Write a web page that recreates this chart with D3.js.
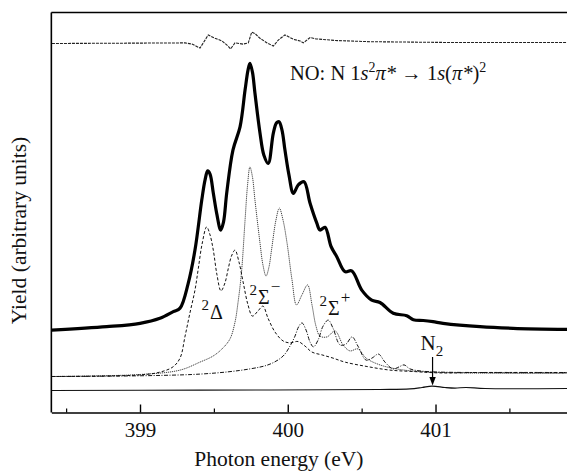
<!DOCTYPE html>
<html>
<head>
<meta charset="utf-8">
<script src="https://cdn.jsdelivr.net/npm/d3@7"></script>
<style>
  body { margin: 0; background: #fff; }
  svg text { font-family: "Liberation Serif", "Times New Roman", serif; fill: #111; }
</style>
</head>
<body>
<svg id="chart" width="567" height="474"></svg>
<script>
// ticks
var xTicks = [399, 400, 401];
var xMinorTicks = [398.5, 399.5, 400.5, 401.5];

// measured yield (thick curve), [photon energy eV, yield]
var measured = [
  [398.402, 20.6], [398.775, 21.45], [399.000, 22.3], [399.135, 23.55], [399.225, 25.2],
  [399.271, 26.1], [399.325, 32.1], [399.372, 40.6], [399.418, 53.1], [399.440, 58.1],
  [399.458, 60.4], [399.474, 59.6], [399.496, 54.9], [399.521, 49.4], [399.546, 45.6],
  [399.565, 47.6], [399.587, 54.9], [399.629, 65.6], [399.677, 71.4], [399.711, 80.6],
  [399.731, 85.6], [399.744, 87.3], [399.761, 85.1], [399.778, 79.8], [399.812, 69.9],
  [399.838, 64.4], [399.868, 62.3], [399.902, 69.8], [399.924, 72.4], [399.941, 72.7],
  [399.961, 70.6], [399.981, 65.6], [400.008, 59.4], [400.038, 54.8], [400.071, 56.9],
  [400.110, 57.7], [400.151, 52.3], [400.196, 47.4], [400.218, 45.6], [400.252, 46.3],
  [400.293, 41.5], [400.331, 39.0], [400.387, 35.2], [400.433, 35.4], [400.501, 30.6],
  [400.568, 28.1], [400.624, 27.5], [400.714, 24.8], [400.805, 24.2], [400.850, 23.2],
  [400.917, 23.0], [400.983, 22.7], [401.051, 22.3], [401.301, 21.45], [401.525, 21.05],
  [401.890, 20.8]
];

// 2Delta component
var delta = [
  [398.404, 9.0], [399.000, 9.4], [399.135, 10.1], [399.223, 11.4], [399.271, 13.6],
  [399.305, 19.1], [399.338, 24.9], [399.372, 30.6], [399.395, 36.1], [399.420, 42.1],
  [399.451, 46.4], [399.474, 44.4], [399.496, 40.6], [399.521, 34.4], [399.548, 30.4],
  [399.575, 32.4], [399.598, 36.1], [399.619, 39.1], [399.643, 40.6], [399.670, 37.6],
  [399.699, 32.4], [399.731, 26.9], [399.761, 24.1], [399.799, 25.4], [399.832, 26.6],
  [399.866, 23.6], [399.914, 20.1], [399.968, 17.9], [400.015, 17.4], [400.069, 17.75],
  [400.117, 16.6], [400.164, 15.1], [400.232, 14.4], [400.306, 13.6], [400.387, 12.6],
  [400.536, 11.5], [400.692, 10.6], [400.848, 10.25], [401.030, 9.9], [401.301, 10.0],
  [401.890, 10.0]
];

// 2Sigma- component
var sigmaMinus = [
  [398.404, 9.0], [399.000, 9.5], [399.271, 10.6], [399.406, 12.6], [399.494, 14.1],
  [399.555, 15.9], [399.609, 18.4], [399.643, 22.6], [399.663, 27.4], [399.687, 35.1],
  [399.711, 48.1], [399.728, 56.9], [399.744, 61.4], [399.761, 58.9], [399.778, 53.1],
  [399.812, 42.4], [399.832, 36.9], [399.853, 34.1], [399.873, 36.4], [399.890, 40.6],
  [399.920, 48.1], [399.943, 51.1], [399.968, 48.1], [399.995, 42.4], [400.029, 33.1],
  [400.059, 26.9], [400.096, 29.4], [400.134, 31.9], [400.164, 26.9], [400.191, 21.6],
  [400.218, 19.1], [400.266, 18.9], [400.320, 20.4], [400.374, 16.9], [400.421, 15.4],
  [400.475, 15.9], [400.530, 13.6], [400.624, 11.9], [400.760, 10.75], [400.963, 10.1],
  [401.890, 9.75]
];

// 2Sigma+ component
var sigmaPlus = [
  [398.404, 9.0], [399.406, 9.6], [399.744, 10.9], [399.880, 12.1], [399.968, 14.1],
  [400.015, 16.6], [400.049, 19.1], [400.073, 21.4], [400.096, 22.4], [400.124, 20.6],
  [400.151, 17.6], [400.174, 16.4], [400.205, 18.1], [400.239, 21.6], [400.274, 23.1],
  [400.306, 21.1], [400.354, 16.9], [400.394, 17.1], [400.435, 18.9], [400.475, 16.6],
  [400.530, 13.1], [400.570, 13.6], [400.614, 14.6], [400.658, 12.6], [400.712, 10.9],
  [400.753, 11.4], [400.787, 11.9], [400.827, 10.9], [400.895, 10.4], [401.030, 10.1],
  [401.890, 10.0]
];

// N2 reference line
var n2 = [
  [398.404, 5.5], [399.406, 5.6], [400.624, 5.75], [400.827, 5.9], [400.909, 6.25],
  [400.976, 6.6], [401.064, 6.25], [401.132, 6.1], [401.206, 6.25], [401.335, 6.0],
  [401.890, 6.0]
];

// difference (fit residual) at top
var residual = [
  [398.404, 92.25], [399.305, 92.4], [399.352, 92.1], [399.406, 91.1], [399.440, 93.1],
  [399.462, 94.4], [399.508, 93.55], [399.555, 92.9], [399.596, 91.6], [399.613, 90.9],
  [399.643, 92.4], [399.697, 92.1], [399.733, 92.4], [399.756, 95.1], [399.778, 94.75],
  [399.812, 93.55], [399.860, 92.4], [399.902, 91.6], [399.936, 93.1], [399.981, 94.4],
  [400.038, 93.3], [400.083, 92.9], [400.105, 92.4], [400.151, 93.75], [400.191, 93.4],
  [400.241, 93.25], [400.320, 93.0], [400.557, 92.7], [401.098, 92.5], [401.890, 92.5]
];

var svg = d3.select("#chart");
var margin = { left: 51.35, top: 12.5, bottom: 412.5 };

var x = d3.scaleLinear().domain([398.4, 401.9]).range([margin.left, 568.5]);
var y = d3.scaleLinear().domain([0, 100]).range([margin.bottom, margin.top]);

var smooth = d3.line()
  .x(function(d) { return x(d[0]); })
  .y(function(d) { return y(d[1]); })
  .curve(d3.curveCatmullRom.alpha(0.5));

var jagged = d3.line()
  .x(function(d) { return x(d[0]); })
  .y(function(d) { return y(d[1]); });

//components first so the thick curve sits on top
svg.append("path").attr("d", smooth(sigmaMinus))
  .attr("fill", "none").attr("stroke", "#444").attr("stroke-width", 1)
  .attr("stroke-dasharray", "1.2,0.8");

svg.append("path").attr("d", smooth(delta))
  .attr("fill", "none").attr("stroke", "#111").attr("stroke-width", 1)
  .attr("stroke-dasharray", "3,2");

svg.append("path").attr("d", smooth(sigmaPlus))
  .attr("fill", "none").attr("stroke", "#111").attr("stroke-width", 1)
  .attr("stroke-dasharray", "4,1.5,1,1.5");

svg.append("path").attr("d", smooth(n2))
  .attr("fill", "none").attr("stroke", "#111").attr("stroke-width", 1.1);

svg.append("path").attr("d", jagged(residual))
  .attr("fill", "none").attr("stroke", "#222").attr("stroke-width", 1.1)
  .attr("stroke-dasharray", "3,1");

svg.append("path").attr("d", smooth(measured))
  .attr("fill", "none").attr("stroke", "#000").attr("stroke-width", 3.2)
  .attr("stroke-linejoin", "round");

// frame: left, top, bottom
svg.append("line").attr("x1", x(398.4)).attr("x2", x(398.4))
  .attr("y1", y(100)).attr("y2", y(0)).attr("stroke", "#000").attr("stroke-width", 1.6);
svg.append("line").attr("x1", x(398.4)).attr("x2", 567)
  .attr("y1", y(100)).attr("y2", y(100)).attr("stroke", "#000").attr("stroke-width", 1.4);

var axis = svg.append("g").attr("transform", "translate(0," + y(0) + ")")
  .call(d3.axisBottom(x).tickValues(xTicks).tickSize(-8).tickSizeOuter(0).tickPadding(10)
    .tickFormat(d3.format("d")));
axis.select(".domain").attr("stroke-width", 1.6);
axis.selectAll(".tick line").attr("stroke-width", 1.4);
axis.selectAll("text").style("font-family", "'Liberation Serif', serif")
  .style("font-size", "21px").attr("fill", "#111");

var minor = svg.append("g").attr("transform", "translate(0," + y(0) + ")")
  .call(d3.axisBottom(x).tickValues(xMinorTicks).tickSize(-4).tickSizeOuter(0).tickFormat(""));
minor.select(".domain").remove();
minor.selectAll(".tick line").attr("stroke-width", 1.2);

// axis titles
svg.append("text").attr("x", x(399.94)).attr("y", 466)
  .attr("text-anchor", "middle").style("font-size", "21.5px")
  .text("Photon energy (eV)");

svg.append("text")
  .attr("transform", "translate(25.5," + y(45.5) + ") rotate(-90)")
  .attr("text-anchor", "middle").style("font-size", "21.5px")
  .text("Yield (arbitrary units)");

// title: NO: N 1s^2 pi* -> 1s(pi*)^2
var title = svg.append("text").attr("x", 290).attr("y", 80).style("font-size", "20.5px");
title.append("tspan").text("NO: N 1");
title.append("tspan").style("font-style", "italic").text("s");
title.append("tspan").attr("dy", -8).style("font-size", "14px").text("2");
title.append("tspan").attr("dy", 8).style("font-style", "italic").text("\u03c0*");
title.append("tspan").text(" \u2192 1");
title.append("tspan").style("font-style", "italic").text("s");
title.append("tspan").text("(");
title.append("tspan").style("font-style", "italic").text("\u03c0*");
title.append("tspan").text(")");
title.append("tspan").attr("dy", -8).style("font-size", "14px").text("2");

// component labels
function termLabel(xPos, base, letter, sign) {
  var t = svg.append("text").attr("x", xPos).attr("y", base - 9).style("font-size", "15px");
  t.append("tspan").text("2");
  t.append("tspan").attr("dy", 9).attr("dx", 1).style("font-size", "20px").text(letter);
  if (sign) t.append("tspan").attr("dy", -12).attr("dx", 1).style("font-size", "17px").text(sign);
}
termLabel(201.5, 318.5, "\u0394", null);
termLabel(249.5, 303.5, "\u03a3", "\u2212");
termLabel(319.5, 315, "\u03a3", "+");

// N2 marker
var n2x = x(400.98);
var n2Label = svg.append("text").attr("x", n2x - 12).attr("y", 349.5).style("font-size", "21px");
n2Label.append("tspan").text("N");
n2Label.append("tspan").attr("dy", 6).style("font-size", "15px").text("2");
svg.append("line").attr("x1", n2x).attr("x2", n2x).attr("y1", 357).attr("y2", 379)
  .attr("stroke", "#000").attr("stroke-width", 1.2);
svg.append("path")
  .attr("d", "M" + (n2x - 3.2) + ",377 L" + (n2x + 3.2) + ",377 L" + n2x + ",385.5 Z")
  .attr("fill", "#000");
</script>
</body>
</html>
